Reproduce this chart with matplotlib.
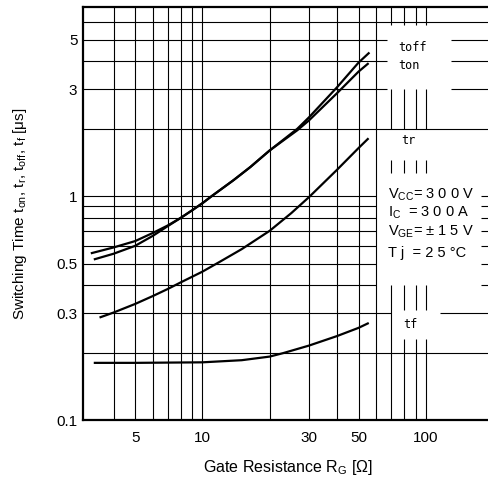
import numpy as np
import matplotlib
matplotlib.use("Agg")
import matplotlib.pyplot as plt
from matplotlib.ticker import NullLocator

plt.rcParams['font.family'] = ['Liberation Sans', 'DejaVu Sans']
plt.rcParams['mathtext.fontset'] = 'custom'
plt.rcParams['mathtext.rm'] = 'Liberation Sans'
plt.rcParams['mathtext.it'] = 'Liberation Sans:italic'

# gate resistance [ohm] and switching times [us]
r_toff = [3.2, 4, 5, 6, 7, 8, 9, 10, 11, 13.8, 16.4, 20, 26.6, 30, 40, 50, 55.5]
toff = [0.557, 0.59, 0.63, 0.685, 0.74, 0.80, 0.865, 0.93, 1.0, 1.18, 1.35, 1.6, 2.0, 2.25, 3.06, 3.95, 4.35]

r_ton = [3.3, 4, 5, 6, 7, 8, 9, 10, 11, 13.8, 16.4, 20, 26.6, 30, 40, 50, 55]
ton = [0.523, 0.553, 0.60, 0.665, 0.735, 0.80, 0.865, 0.93, 1.0, 1.18, 1.35, 1.6, 1.97, 2.18, 2.88, 3.6, 3.9]

r_tr = [3.5, 4, 5, 6, 7, 8, 10, 12, 15, 20, 25, 30, 40, 50, 55]
tr = [0.288, 0.302, 0.330, 0.358, 0.385, 0.412, 0.46, 0.51, 0.58, 0.70, 0.84, 0.99, 1.31, 1.64, 1.8]

r_tf = [3.3, 5, 10, 15, 20, 23, 30, 40, 50, 55]
tf = [0.18, 0.18, 0.181, 0.185, 0.192, 0.199, 0.215, 0.237, 0.258, 0.27]

xticks = [5, 10, 30, 50, 100]
yticks = [0.1, 0.3, 0.5, 1, 3, 5]
ytick_labels = ['0.1', '0.3', '0.5', '1', '3', '5']

fig = plt.figure(figsize=(4.88, 4.82), dpi=100, facecolor='white')
ax = fig.add_axes([83/488, 62/482, 410/488, 413/482])
ax.set_xscale('log')
ax.set_yscale('log')
ax.set_xlim(2.92, 200)
ax.set_ylim(0.1, 7)

# log paper grid, partly blanked out on the right for the legend text
gkw = dict(colors='black', linewidth=0.8, zorder=1)
ylo, yhi = 0.1, 7
xlo, xhi = 2.92, 200
for x in [4, 5, 6, 7, 8, 9, 10, 20, 30, 40, 50, 60]:
	ax.vlines(x, ylo, yhi, **gkw)
for x in [70, 80, 90, 100]:
	ax.vlines(x, 5.8, yhi, **gkw)
	ax.vlines(x, 2, 3, **gkw)
	ax.vlines(x, 1.27, 1.45, **gkw)
ax.vlines(70, ylo, 0.4, **gkw)
for x in [80, 90, 100]:
	ax.vlines(x, 0.31, 0.4, **gkw)
	ax.vlines(x, ylo, 0.23, **gkw)

for y in [0.2, 0.3, 0.4, 0.5, 0.6, 0.7, 0.8, 0.9, 1, 2, 3, 4, 5, 6]:
	ax.hlines(y, xlo, 60, **gkw)
for y in [0.2, 2, 6]:
	ax.hlines(y, 60, xhi, **gkw)
for y in [3, 4, 5]:
	ax.hlines(y, 60, 67, **gkw)
	ax.hlines(y, 130, xhi, **gkw)
ax.hlines(0.3, 60, 70, **gkw)
ax.hlines(0.3, 116, xhi, **gkw)
for y in [0.4, 0.5, 0.6, 0.7, 0.8, 0.9, 1]:
	ax.hlines(y, 176, xhi, **gkw)

lkw = dict(color='black', linewidth=1.6, zorder=3)
ax.plot(r_toff, toff, **lkw)
ax.plot(r_ton, ton, **lkw)
ax.plot(r_tr, tr, **lkw)
ax.plot(r_tf, tf, **lkw)

mono = dict(family='DejaVu Sans Mono', fontsize=8.5, va='center')
ax.text(75, 4.6, 'toff', **mono)
ax.text(75, 3.85, 'ton', **mono)
ax.text(78, 1.78, 'tr', **mono)
ax.text(79, 0.266, 'tf', **mono)

ckw = dict(fontsize=10.5, va='center')
ax.text(68, 1.01, r'V$_{\rm CC}$= 3 0 0 V', **ckw)
ax.text(68, 0.84, r'I$_{\rm C}$  = 3 0 0 A', **ckw)
ax.text(68, 0.69, r'V$_{\rm GE}$= ± 1 5 V', **ckw)
ax.text(68, 0.56, 'T j  = 2 5 °C', **ckw)

ax.set_xticks(xticks)
ax.set_xticklabels([str(v) for v in xticks])
ax.set_yticks(yticks)
ax.set_yticklabels(ytick_labels)
ax.xaxis.set_minor_locator(NullLocator())
ax.yaxis.set_minor_locator(NullLocator())
ax.tick_params(axis='both', length=0, labelsize=11)
ax.tick_params(axis='x', pad=8)
ax.tick_params(axis='y', pad=4)

for s in ax.spines.values():
	s.set_linewidth(1.6)

ax.set_xlabel(r'Gate Resistance R$_{\rm G}$ [Ω]', fontsize=11.5, labelpad=9)
ax.set_ylabel(r'Switching Time t$_{\rm on}$, t$_{\rm r}$, t$_{\rm off}$, t$_{\rm f}$ [μs]', fontsize=11, labelpad=20)

fig.savefig('out.png', dpi=100, facecolor='white')
